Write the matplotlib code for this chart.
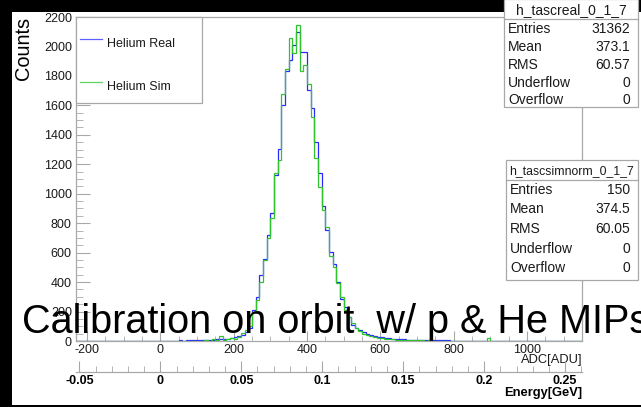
import numpy as np
import matplotlib
matplotlib.use("Agg")
import matplotlib.pyplot as plt
from matplotlib.patches import Rectangle
from matplotlib.lines import Line2D
from matplotlib.transforms import Affine2D
from matplotlib.ticker import MultipleLocator, FixedLocator

plt.rcParams['font.family'] = ['Liberation Sans', 'DejaVu Sans']

# ---------------- data ----------------
bin_width = 10
adc_min, adc_max = -230, 1150
first_bin = 30  # left edge (ADC) of first listed bin
real_counts = [0, 3, 4, 3, 5, 4, 6, 5, 7, 6, 8, 9,             # 30..140
               12, 12, 14, 16, 20, 26, 32, 42, 60, 90,          # 150..240
               210, 300, 448, 560, 720, 871, 1127, 1302, 1600, 1830,  # 250..340
               1908, 2010, 2096, 1964, 1964, 1704, 1580, 1353, 1138, 917,  # 350..440
               754, 606, 523, 400, 285, 231, 165, 110, 90, 72,  # 450..540
               58, 50, 42, 36, 30, 26, 22, 19, 16, 14,          # 550..640
               12, 11, 10, 9, 8, 7, 7, 6, 6, 5,                 # 650..740
               5, 4, 4, 4, 3, 3, 3, 3, 2, 2,                    # 750..840
               2, 1, 2, 1, 1, 2, 1, 1, 1, 1,                    # 850..940
               1, 1, 1, 1, 0, 1, 1, 0, 1, 1,                    # 950..1040
               0, 1, 0, 1, 0, 1, 1, 0, 1, 1, 1]                 # 1050..1150
sim_counts = [0, 0, 0, 0, 2, 0, 0, 3, 0, 5, 0, 16,             # 30..140
              10, 34, 10, 16, 20, 16, 30, 52, 75, 100,          # 150..240
              200, 278, 403, 550, 700, 835, 1140, 1229, 1677, 1845,  # 250..340
              2055, 1953, 2146, 1833, 1874, 1745, 1523, 1240, 1048, 890,  # 350..440
              772, 580, 504, 396, 300, 210, 160, 120, 90, 65,   # 450..540
              50, 40, 35, 28, 22, 20, 16, 14, 12, 10,           # 550..640
              10, 8, 6, 8, 5, 4, 6, 3, 4, 2,                    # 650..740
              3, 2, 2, 0, 3, 0, 2, 0, 0, 0,                     # 750..840
              0, 0, 0, 0, 20, 0, 0, 0, 0, 0,                    # 850..940
              0, 0, 0, 0, 0, 0, 0, 0, 0, 0,                     # 950..1040
              0, 0, 0, 0, 0, 0, 0, 0, 0, 0, 0]                  # 1050..1150
legend_labels = ["Helium Real", "Helium Sim"]
stats_real_name = "h_tascreal_0_1_7"
stats_real = [("Entries", "31362"), ("Mean", "373.1"), ("RMS", "60.57"),
              ("Underflow", "0"), ("Overflow", "0")]
stats_sim_name = "h_tascsimnorm_0_1_7"
stats_sim = [("Entries", "150"), ("Mean", "374.5"), ("RMS", "60.05"),
             ("Underflow", "0"), ("Overflow", "0")]
y_ticks = list(range(0, 2201, 200))
adc_ticks = [-200, 0, 200, 400, 600, 800, 1000]
energy_ticks = [-0.05, 0, 0.05, 0.1, 0.15, 0.2, 0.25]
gev_per_adc = 0.05 / 220.8
title_text = "Calibration on orbit  w/ p & He MIPs"

# ---------------- figure ----------------
W, H = 641, 407
fig = plt.figure(figsize=(W / 100, H / 100), dpi=100, facecolor='black')
pix = Affine2D().scale(1 / W, -1 / H).translate(0, 1) + fig.transFigure

def fx(x):
    return x / W

def fy(y):
    return 1 - y / H

gray = '#a8a8a8'
blue = '#2b2bff'
green = '#2fc42f'
txt = '#1a1a1a'

fig.patches.append(Rectangle((12, 12), W - 12, 393, transform=pix,
                             facecolor='white', edgecolor='none', zorder=-5))

L, R, T, B = 76, 582, 17, 341
ax = fig.add_axes([fx(L), fy(B), (R - L) / W, (B - T) / H])
ax.set_zorder(1)
ax.set_facecolor('white')

edges = np.arange(adc_min, adc_max + bin_width, bin_width)
nb = len(edges) - 1
real = np.zeros(nb)
sim = np.zeros(nb)
i0 = (first_bin - adc_min) // bin_width
real[i0:i0 + len(real_counts)] = real_counts[:nb - i0]
sim[i0:i0 + len(sim_counts)] = sim_counts[:nb - i0]

ax.stairs(real, edges, color=blue, lw=0.9, baseline=0, zorder=3)
ax.stairs(sim, edges, color=green, lw=0.9, baseline=0, zorder=4)

ax.set_xlim(adc_min, adc_max)
ax.set_ylim(0, 2200)
for s in ax.spines.values():
    s.set_color(gray)
    s.set_linewidth(0.9)

ax.xaxis.set_major_locator(FixedLocator(adc_ticks))
ax.xaxis.set_minor_locator(MultipleLocator(50))
ax.yaxis.set_major_locator(FixedLocator(y_ticks))
ax.yaxis.set_minor_locator(MultipleLocator(50))
ax.set_xticklabels([f"{v:g}" for v in adc_ticks])
ax.set_yticklabels([f"{v:g}" for v in y_ticks])
ax.tick_params(axis='x', which='major', direction='in', length=7, color=gray,
               labelsize=9, labelcolor=txt, pad=2)
ax.tick_params(axis='x', which='minor', direction='in', length=3.5, color=gray)
ax.tick_params(axis='y', which='major', direction='in', length=10, color=gray,
               labelsize=9, labelcolor=txt, pad=3)
ax.tick_params(axis='y', which='minor', direction='in', length=5, color=gray)
ax.set_xlabel("ADC[ADU]", loc='right', fontsize=9.3, color=txt, labelpad=-1)

# energy axis
axE = fig.add_axes([fx(L), fy(372), (R - L) / W, 1e-5])
axE.set_zorder(1)
axE.patch.set_visible(False)
axE.set_xlim(adc_min * gev_per_adc, adc_max * gev_per_adc)
for s in ['top', 'left', 'right']:
    axE.spines[s].set_visible(False)
axE.spines['bottom'].set_color(gray)
axE.spines['bottom'].set_linewidth(0.9)
axE.yaxis.set_visible(False)
axE.xaxis.set_major_locator(FixedLocator(energy_ticks))
axE.xaxis.set_minor_locator(MultipleLocator(0.01))
axE.set_xticklabels([f"{v:g}" for v in energy_ticks], fontweight='bold')
axE.tick_params(axis='x', which='major', direction='in', length=8, color=gray,
                labelsize=9, labelcolor='black', pad=2)
axE.tick_params(axis='x', which='minor', direction='in', length=4, color=gray)
axE.set_xlabel("Energy[GeV]", loc='right', fontsize=9.3, fontweight='bold',
               color='black', labelpad=0)

# y label
fig.text(24, T, "Counts", transform=pix, rotation=90, ha='center', va='top',
         fontsize=14.4, color='black')

# legend
fig.patches.append(Rectangle((L, T), 202 - L, 103 - T, transform=pix,
                             facecolor='white', edgecolor=gray, lw=0.9, zorder=5))
for yl, col, lab in [(39, blue, legend_labels[0]), (82, green, legend_labels[1])]:
    fig.lines.append(Line2D([80, 102], [yl, yl], transform=pix, color=col,
                            lw=0.9, alpha=0.75, zorder=6))
    fig.text(107, yl + 5, lab, transform=pix, ha='left', va='center',
             fontsize=9, color=txt, zorder=6)

# stats boxes
def stats_box(x0, x1, y0, y1, ysep, name, name_y, name_fs, rows, row_ys, fs):
    fig.patches.append(Rectangle((x0, y0), x1 - x0, y1 - y0, transform=pix,
                                 facecolor='white', edgecolor=gray, lw=0.9, zorder=7))
    fig.lines.append(Line2D([x0, x1], [ysep, ysep], transform=pix, color=gray,
                            lw=0.9, zorder=8))
    fig.text((x0 + x1) / 2, name_y, name, transform=pix, ha='center',
             va='center', fontsize=name_fs, color=txt, zorder=8)
    for (k, v), yy in zip(rows, row_ys):
        fig.text(x0 + 4, yy, k, transform=pix, ha='left', va='center',
                 fontsize=fs, color=txt, zorder=8)
        fig.text(x1 - 8, yy, v, transform=pix, ha='right', va='center',
                 fontsize=fs, color=txt, zorder=8)

stats_box(504, 638, -1, 107, 19, stats_real_name, 10, 10, stats_real,
          [29, 47, 65, 83, 100], 10)
stats_box(506, 638, 160, 280, 180, stats_sim_name, 171, 8.8, stats_sim,
          [190, 209, 229, 249, 268], 10)

# overlay title
fig.text(22, 333, title_text, transform=pix, ha='left', va='baseline',
         fontsize=28.5, color='black', zorder=10)

fig.savefig("out.png", dpi=100, facecolor='black')
